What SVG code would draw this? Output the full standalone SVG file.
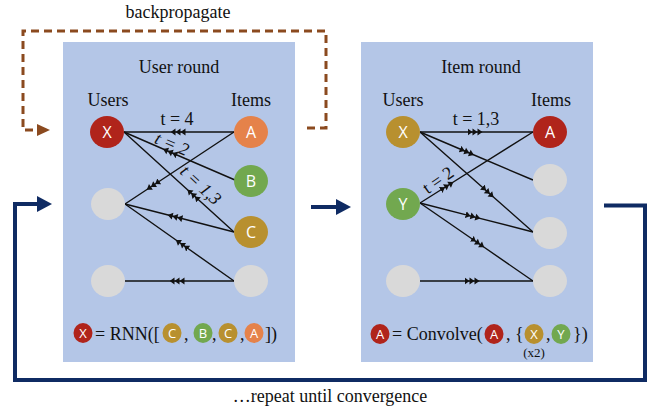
<svg xmlns="http://www.w3.org/2000/svg" width="654" height="408" viewBox="0 0 654 408">
<defs>
<style>
.panel{fill:#b4c6e7}
.t{font-family:"Liberation Serif","Times New Roman",serif;font-size:18px;fill:#111}
.tc{text-anchor:middle}
.nl{font-family:"Open Sans","Liberation Sans",sans-serif;font-size:16px;fill:#fff;text-anchor:middle}
.sl{font-family:"Open Sans","Liberation Sans",sans-serif;font-size:13px;fill:#fff;text-anchor:middle}
.e{fill:none;stroke:#111;stroke-width:1.4;marker-mid:url(#tri)}
.red{fill:#b0241b}.org{fill:#e5824a}.grn{fill:#72a84f}.gld{fill:#b8902f}.gry{fill:#d9d9d9}
.navy{fill:none;stroke:#0f2b63;stroke-width:4}
.brown{fill:none;stroke:#8b4a1f;stroke-width:3;stroke-dasharray:8 5}
</style>
<marker id="tri" markerUnits="userSpaceOnUse" viewBox="0 0 15 8" markerWidth="15" markerHeight="8" refX="7.5" refY="4" orient="auto">
<path d="M0,0.5 L5,4 L0,7.5 Z M5,0.5 L10,4 L5,7.5 Z M10,0.5 L15,4 L10,7.5 Z" fill="#111"/>
</marker>
<marker id="navyHead" markerUnits="userSpaceOnUse" viewBox="0 0 15 16" markerWidth="15" markerHeight="16" refX="1" refY="8" orient="auto">
<path d="M0,0 L15,8 L0,16 Z" fill="#0f2b63"/>
</marker>
<marker id="brownHead" markerUnits="userSpaceOnUse" viewBox="0 0 13 12" markerWidth="13" markerHeight="12" refX="1" refY="6" orient="auto">
<path d="M0,0 L13,6 L0,12 Z" fill="#8b4a1f"/>
</marker>
</defs>

<text class="t tc" x="178" y="18">backpropagate</text>
<text class="t tc" x="330" y="402">…repeat until convergence</text>

<g id="panel-user">
<rect class="panel" x="63" y="42" width="232" height="320"/>
<text class="t tc" x="179" y="73">User round</text>
<text class="t tc" x="108" y="106">Users</text>
<text class="t tc" x="251" y="106">Items</text>
</g>
<g id="panel-item">
<rect class="panel" x="361" y="42" width="232" height="320"/>
<text class="t tc" x="481" y="73">Item round</text>
<text class="t tc" x="403" y="106">Users</text>
<text class="t tc" x="551" y="106">Items</text>
</g>

<g id="connectors">
<path class="brown" d="M307,128 L326,128 L326,31 L23,31 L23,130 L38,130" marker-end="url(#brownHead)"/>
<path class="navy" d="M604,205.5 L645,205.5 L645,380 L15,380 L15,204 L38,204" marker-end="url(#navyHead)"/>
<path class="navy" d="M311,207 L337,207" marker-end="url(#navyHead)"/>

<path class="e" d="M234,132 L178,132 L124,132"/>
<path class="e" d="M235,180 L170,152 L124,132"/>
<path class="e" d="M234,232 L193,194.7 L124,132"/>
<path class="e" d="M234,132 L153,185.5 L125,204"/>
<path class="e" d="M234,232 L175,216.8 L125,204"/>
<path class="e" d="M234,281 L182,244.3 L125,204"/>
<path class="e" d="M234,281 L177,281 L125,281"/>

<path class="e" d="M420,132 L475,132 L533,132"/>
<path class="e" d="M420,132 L467,152 L533,180"/>
<path class="e" d="M420,132 L488,192.2 L533,232"/>
<path class="e" d="M420,203 L447,186 L533,132"/>
<path class="e" d="M420,203 L473,216.6 L533,232"/>
<path class="e" d="M420,203 L478,243 L533,281"/>
<path class="e" d="M420,281 L472,281 L533,281"/>

<text class="t tc" x="177" y="125">t = 4</text>
<text class="t tc" font-style="italic" transform="translate(172,144) rotate(23)" y="6">t = 2</text>
<text class="t tc" font-style="italic" transform="translate(201,185) rotate(43)" y="6">t = 1,3</text>
<text class="t tc" x="476" y="125">t = 1,3</text>
<text class="t tc" transform="translate(438,180) rotate(-35)" y="6">t = 2</text>
</g>

<g id="u-X"><ellipse class="red" cx="107" cy="132" rx="17" ry="16"/><text class="nl" x="107" y="138">X</text></g>
<g id="u-1"><ellipse class="gry" cx="108" cy="204" rx="17" ry="16"/></g>
<g id="u-2"><ellipse class="gry" cx="108" cy="281" rx="17" ry="16"/></g>
<g id="i-A"><ellipse class="org" cx="251" cy="132" rx="17" ry="16"/><text class="nl" x="251" y="138">A</text></g>
<g id="i-B"><ellipse class="grn" cx="251" cy="181" rx="17" ry="16"/><text class="nl" x="251" y="187">B</text></g>
<g id="i-C"><ellipse class="gld" cx="251" cy="232" rx="17" ry="16"/><text class="nl" x="251" y="238">C</text></g>
<g id="i-3"><ellipse class="gry" cx="251" cy="281" rx="17" ry="16"/></g>

<g id="u2-X"><ellipse class="gld" cx="403" cy="132" rx="17" ry="16"/><text class="nl" x="403" y="138">X</text></g>
<g id="u2-Y"><ellipse class="grn" cx="403" cy="204" rx="17" ry="16"/><text class="nl" x="403" y="210">Y</text></g>
<g id="u2-3"><ellipse class="gry" cx="403" cy="281" rx="17" ry="16"/></g>
<g id="i2-A"><ellipse class="red" cx="550" cy="132" rx="17" ry="16"/><text class="nl" x="550" y="138">A</text></g>
<g id="i2-1"><ellipse class="gry" cx="550" cy="180" rx="17" ry="16"/></g>
<g id="i2-2"><ellipse class="gry" cx="550" cy="233" rx="17" ry="16"/></g>
<g id="i2-3"><ellipse class="gry" cx="550" cy="281" rx="17" ry="16"/></g>

<g id="formula-rnn">
<ellipse class="red" cx="83" cy="333" rx="9.5" ry="10"/><text class="sl" x="83" y="337.5">X</text>
<text class="t" x="95" y="340">= RNN([</text>
<ellipse class="gld" cx="172" cy="333" rx="9.5" ry="10"/><text class="sl" x="172" y="337.5">C</text>
<text class="t" x="184" y="340">,</text>
<ellipse class="grn" cx="203" cy="333" rx="9.5" ry="10"/><text class="sl" x="203" y="337.5">B</text>
<text class="t" x="212" y="340">,</text>
<ellipse class="gld" cx="228" cy="333" rx="9.5" ry="10"/><text class="sl" x="228" y="337.5">C</text>
<text class="t" x="240" y="340">,</text>
<ellipse class="org" cx="254" cy="333" rx="9.5" ry="10"/><text class="sl" x="254" y="337.5">A</text>
<text class="t" x="265" y="340">])</text>
</g>

<g id="formula-conv">
<ellipse class="red" cx="380" cy="334" rx="9.5" ry="10"/><text class="sl" x="380" y="338.5">A</text>
<text class="t" x="392" y="340">= Convolve(</text>
<ellipse class="red" cx="494" cy="334" rx="9.5" ry="10"/><text class="sl" x="494" y="338.5">A</text>
<text class="t" x="506" y="340">, {</text>
<ellipse class="gld" cx="534" cy="334" rx="9.5" ry="10"/><text class="sl" x="534" y="338.5">X</text>
<text class="t" x="546" y="340">,</text>
<ellipse class="grn" cx="561" cy="334" rx="9.5" ry="10"/><text class="sl" x="561" y="338.5">Y</text>
<text class="t" x="573" y="340">})</text>
<text class="t tc" x="534" y="357" style="font-size:13px">(x2)</text>
</g>
</svg>
